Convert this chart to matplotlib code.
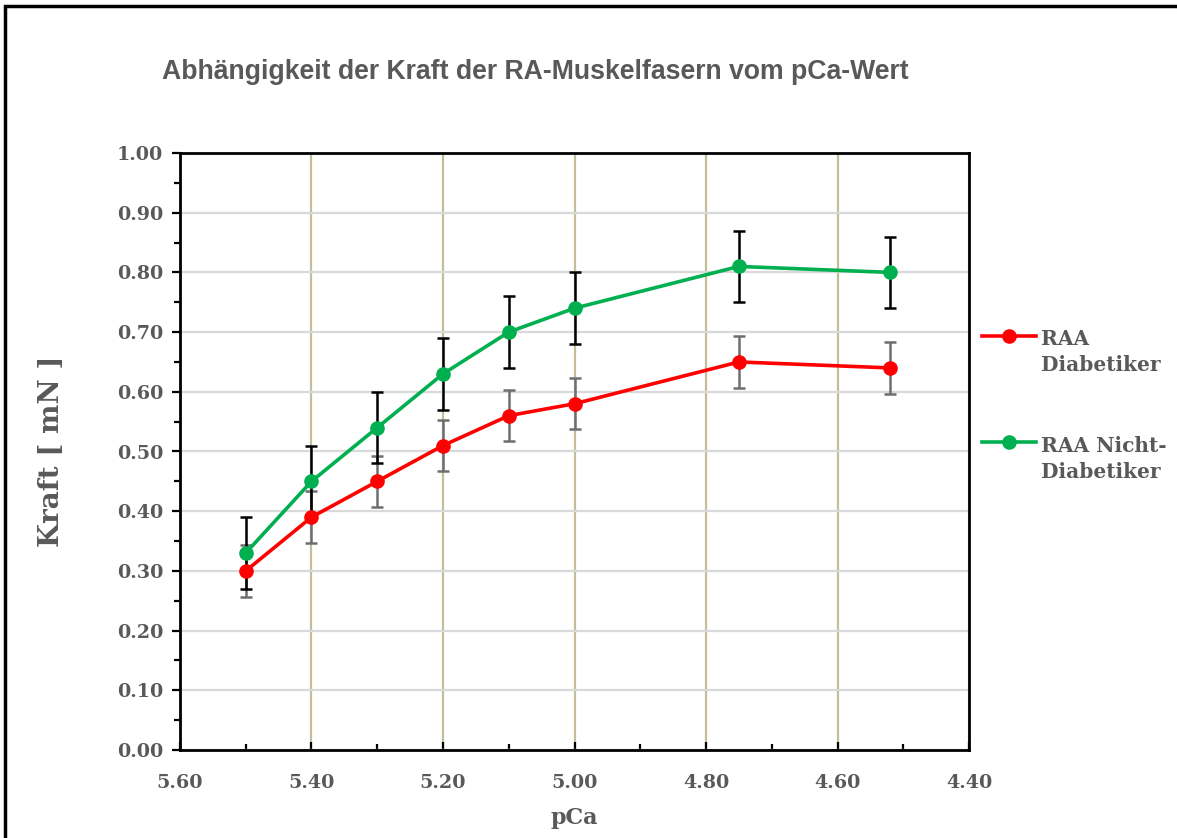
import numpy as np
import matplotlib
matplotlib.use("Agg")
import matplotlib.pyplot as plt
from matplotlib.lines import Line2D
from matplotlib.patches import Rectangle
from matplotlib.ticker import MultipleLocator, FormatStrFormatter

# data
pca = [5.50, 5.40, 5.30, 5.20, 5.10, 5.00, 4.75, 4.52]
kraft_dia = [0.30, 0.39, 0.45, 0.51, 0.56, 0.58, 0.65, 0.64]
err_dia = [0.043, 0.043, 0.043, 0.043, 0.043, 0.043, 0.043, 0.043]
kraft_nondia = [0.33, 0.45, 0.54, 0.63, 0.70, 0.74, 0.81, 0.80]
err_nondia = [0.06, 0.06, 0.06, 0.06, 0.06, 0.06, 0.06, 0.06]
labels = ["RAA\nDiabetiker", "RAA Nicht-\nDiabetiker"]

RED = "#FF0000"
GREEN = "#00B050"
GRAY = "#595959"

fig = plt.figure(figsize=(11.77, 8.38), dpi=100)
ax = fig.add_axes([180/1177, 1-750/838, 789/1177, 597/838])

ax.set_xlim(5.60, 4.40)
ax.set_ylim(0, 1.0)
ax.xaxis.set_major_locator(MultipleLocator(0.2))
ax.xaxis.set_minor_locator(MultipleLocator(0.1))
ax.yaxis.set_major_locator(MultipleLocator(0.1))
ax.yaxis.set_minor_locator(MultipleLocator(0.05))
ax.xaxis.set_major_formatter(FormatStrFormatter("%.2f"))
ax.yaxis.set_major_formatter(FormatStrFormatter("%.2f"))

ax.grid(axis="y", which="major", color="#D9D9D9", lw=1.6, zorder=0)
ax.grid(axis="x", which="major", color="#C4BD97", lw=1.6, zorder=0)
ax.set_axisbelow(True)

for s in ax.spines.values():
    s.set_linewidth(2.0)
    s.set_color("black")

ax.tick_params(axis="y", which="major", direction="out", length=6, width=1.6,
               pad=6, labelcolor=GRAY, labelsize=13.8)
ax.tick_params(axis="y", which="minor", direction="out", length=4, width=1.6)
ax.tick_params(axis="x", which="major", direction="in", length=6, width=1.6,
               pad=17, labelcolor=GRAY, labelsize=13.8)
ax.tick_params(axis="x", which="minor", direction="in", length=4, width=1.6)
for t in ax.get_yticklabels() + ax.get_xticklabels():
    t.set_fontfamily("DejaVu Serif")
    t.set_fontweight("bold")

# error bars
ax.errorbar(pca, kraft_dia, yerr=err_dia, fmt="none", ecolor="#6E6E6E",
            elinewidth=1.8, capsize=4.5, capthick=1.8, zorder=2)
ax.errorbar(pca, kraft_nondia, yerr=err_nondia, fmt="none", ecolor="black",
            elinewidth=1.8, capsize=4.5, capthick=1.8, zorder=2)
ax.plot(pca, kraft_dia, "-o", color=RED, lw=2.6, ms=9.5, zorder=3)
ax.plot(pca, kraft_nondia, "-o", color=GREEN, lw=2.6, ms=9.5, zorder=4)

ax.set_xlabel("pCa", fontfamily="DejaVu Serif", fontweight="bold",
              fontsize=16, color=GRAY)
ax.xaxis.label.set_va("center")
ax.xaxis.set_label_coords(0.5, -0.114)
ax.set_ylabel("Kraft [ mN ]", fontfamily="DejaVu Serif", fontweight="bold",
              fontsize=20, color=GRAY)
ax.yaxis.label.set_va("center")
ax.yaxis.set_label_coords(-0.163, 0.5)

fig.text(535/1177, 1-72/838, "Abhängigkeit der Kraft der RA-Muskelfasern vom pCa-Wert",
         ha="center", va="center", fontfamily="Liberation Sans", fontweight="bold",
         fontsize=19.2, color=GRAY)

# legend drawn by hand
for lab, col, hy, ty in [(labels[0], RED, 336, 352), (labels[1], GREEN, 442, 459)]:
    y = 1 - hy/838
    fig.add_artist(Line2D([982/1177, 1009/1177, 1036/1177], [y, y, y],
                          transform=fig.transFigure, color=col, lw=2.6,
                          marker="o", ms=9.5, markevery=[1]))
    fig.text(1041/1177, 1 - ty/838, lab, ha="left", va="center",
             fontfamily="DejaVu Serif", fontweight="bold", fontsize=14.5,
             color=GRAY, linespacing=1.4)

# outer frame
fig.add_artist(Rectangle((5/1177, -0.05), 1.1, 1 - 6/838 + 0.05,
                         transform=fig.transFigure, fill=False,
                         edgecolor="black", lw=2.5))

fig.savefig("out.png", dpi=100)
